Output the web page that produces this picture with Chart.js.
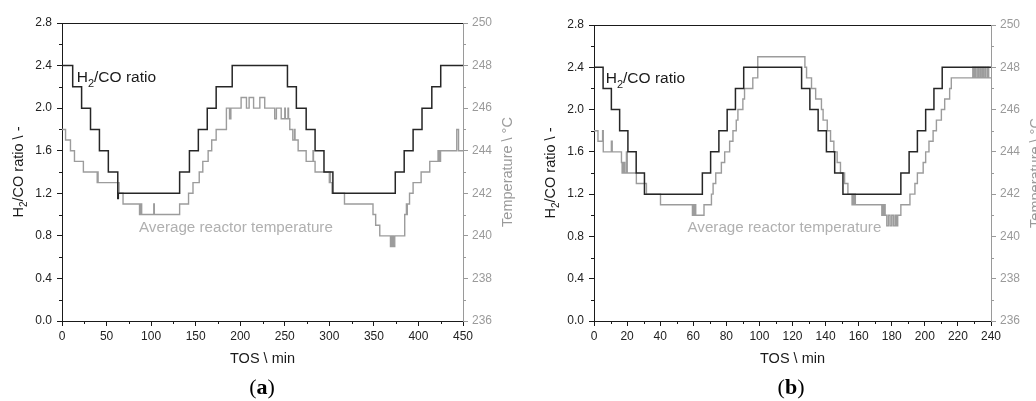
<!DOCTYPE html>
<html>
<head>
<meta charset="utf-8">
<script src="https://cdn.jsdelivr.net/npm/chart.js@4.4.1/dist/chart.umd.min.js"></script>
<style>
    html, body { margin: 0; padding: 0; background: #fff; overflow: hidden; }
    body { width: 1036px; height: 401px; position: relative; }
    canvas { position: absolute; top: 0; }
    #chartA { left: 0; }
    #chartB { left: 530px; }
    .cap { position: absolute; top: 374px; width: 60px; text-align: center;
           font: 22px 'Liberation Serif', 'DejaVu Serif', serif; color: #000; }
</style>
</head>
<body>
<canvas id="chartA" width="520" height="401"></canvas>
<canvas id="chartB" width="520" height="401"></canvas>
<div class="cap" style="left:232px">(<b>a</b>)</div>
<div class="cap" style="left:761px">(<b>b</b>)</div>
<script>
// axis ranges: [min, max, major step]
var tosRangeA = [0, 450, 50];
var tosRangeB = [0, 240, 20];
var ratioRange = [0, 2.8, 0.4];
var tempRange = [236, 250, 2];

// (a) H2/CO ratio set points, each value holds from its TOS until the next one
var tosRatioA = [0, 12, 22, 32, 42, 52, 62.6, 63.2, 132, 143, 153, 163, 173, 191,
                 253, 263, 274, 284, 294, 304, 374, 384, 394, 404, 415, 425, 450];
var ratioA = [2.4, 2.2, 2.0, 1.8, 1.6, 1.4, 1.15, 1.2, 1.4, 1.6, 1.8, 2.0, 2.2, 2.4,
              2.2, 2.0, 1.8, 1.6, 1.4, 1.2, 1.4, 1.6, 1.8, 2.0, 2.2, 2.4, 2.4];

// (a) average reactor temperature
var tosTempA = [0, 4, 9.5, 14, 24, 39.5, 40, 40.5, 64, 68.5, 87, 87.6, 88.2, 88.8, 89.4,
                103, 103.6, 132, 142, 147, 154, 158, 164, 168, 173, 184.5, 188, 188.5,
                189, 189.5, 201, 207, 210, 215, 222, 227.5, 238.7, 240.6, 246, 250,
                250.6, 253.6, 254.2, 255.6, 259, 261, 261.5, 265, 274, 281.7, 282.2,
                284, 300, 300.6, 301.2, 303, 317, 349, 352, 356.6, 368.6, 369.4, 370.2,
                371, 371.8, 373.4, 384.6, 386.5, 387, 387.5, 390, 394, 403, 412.7, 422,
                423, 423.6, 424.2, 424.8, 443, 445, 450];
var tempA = [245, 244.5, 244, 243.5, 243, 242.5, 243, 242.5, 242, 241.5, 241, 241.5, 241,
             241.5, 241, 241.5, 241, 241.5, 242, 242.5, 243, 243.5, 244, 244.5, 245, 246,
             245.5, 246, 245.5, 246, 246.5, 246, 246.5, 246, 246.5, 246, 245.5, 246,
             245.5, 246, 245.5, 246, 245.5, 245, 244.5, 245, 244.5, 244, 243.5, 244,
             243.5, 243, 242.5, 243, 242.5, 242, 241.5, 241, 240.5, 240, 239.5, 240,
             239.5, 240, 239.5, 240, 241, 241.5, 241, 241.5, 242, 242.5, 243, 243.5, 244,
             243.5, 244, 243.5, 244, 245, 244, 244];

// (b) H2/CO ratio set points
var tosRatioB = [0, 5.5, 10.5, 15.5, 20.5, 25.5, 30.5, 65.5, 70.5, 75.5, 80.5, 85.5, 90.5,
                 125.5, 130.5, 135.5, 140.5, 145.5, 150.5, 185.5, 190.5, 195.5, 200.5,
                 205.5, 210.5, 240];
var ratioB = [2.4, 2.2, 2.0, 1.8, 1.6, 1.4, 1.2, 1.4, 1.6, 1.8, 2.0, 2.2, 2.4,
              2.2, 2.0, 1.8, 1.6, 1.4, 1.2, 1.4, 1.6, 1.8, 2.0, 2.2, 2.4, 2.4];

// (b) average reactor temperature
var tosTempB = [0, 2.4, 5.2, 5.6, 10.5, 11, 16.6, 17, 17.4, 17.8, 18.2, 18.6, 19.6, 20.1,
                25.6, 31.7, 40.2, 59.5, 60, 60.5, 61, 61.5, 66.5, 71, 72, 73.6, 77, 79,
                82, 84, 86, 87, 90, 91, 96, 99, 127.5, 128.5, 131.5, 134, 137.5, 138.5,
                141, 143, 145, 147, 149, 151.5, 153.5, 156, 156.5, 157, 157.5, 158, 174,
                174.5, 175, 175.5, 176, 177, 178, 179, 180, 181, 182, 182.8, 183.6, 185.5,
                191, 194, 195.5, 199, 200.5, 202.5, 205, 207, 210, 212, 215, 216, 229,
                229.7, 230.4, 231, 232, 232.6, 233.5, 234.1, 235, 235.6, 236.5, 237, 238,
                238.6, 240];
var tempB = [245, 244.5, 245, 244, 244.5, 244, 243.5, 243, 243.5, 243, 243.5, 243, 244, 243,
             242.5, 242, 241.5, 241, 241.5, 241, 241.5, 241, 241.5, 242, 242.5, 243, 243.5,
             244, 244.5, 245, 245.5, 246, 246.5, 247, 247.5, 248.5, 248, 247.5, 247, 246.5,
             246, 245.5, 245, 244.5, 244, 243.5, 243, 242.5, 242, 241.5, 242, 241.5, 242,
             241.5, 241, 241.5, 241, 241.5, 241, 240.5, 241, 240.5, 241, 240.5, 241, 240.5,
             241, 241.5, 242, 242.5, 243, 243.5, 244, 244.5, 245, 245.5, 246, 246.5, 247,
             247.5, 248, 247.5, 248, 247.5, 248, 247.5, 248, 247.5, 248, 247.5, 248, 247.5,
             248, 247.5, 247.5];

(function () {
    'use strict';

    var FONT = "'Liberation Sans', Arial, sans-serif";
    var DARK = '#1a1a1a';
    var GREY = '#9a9a9a';
    var RATIO_LINE = '#262626';
    var TEMP_LINE = '#9c9c9c';
    var NOTE_GREY = '#b0b0b0';

    function toPoints(xs, ys) {
        return xs.map(function (x, i) { return { x: x, y: ys[i] }; });
    }

    // text with an optional subscript piece, drawn left to right from x (or centred)
    function drawRich(ctx, parts, x, y, align, size, color) {
        var big = size + 'px ' + FONT;
        var small = Math.round(size * 0.68) + 'px ' + FONT;
        var w = 0;
        parts.forEach(function (p) { ctx.font = p.sub ? small : big; w += ctx.measureText(p.t).width; });
        var cx = align === 'center' ? x - w / 2 : x;
        ctx.fillStyle = color;
        ctx.textAlign = 'left';
        ctx.textBaseline = 'alphabetic';
        parts.forEach(function (p) {
            ctx.font = p.sub ? small : big;
            ctx.fillText(p.t, cx, y + (p.sub ? size * 0.3 : 0));
            cx += ctx.measureText(p.t).width;
        });
    }

    var axisExtras = {
        id: 'axisExtras',
        afterDraw: function (chart, args, o) {
            var ctx = chart.ctx, a = chart.chartArea;
            var sx = chart.scales.x, sy = chart.scales.y, sy2 = chart.scales.y2;
            var i, p, n;
            ctx.save();
            ctx.lineWidth = 1;

            // top edge of the frame
            ctx.strokeStyle = DARK;
            ctx.beginPath();
            p = Math.round(a.top) + 0.5;
            ctx.moveTo(a.left, p);
            ctx.lineTo(a.right, p);
            ctx.stroke();

            // minor ticks between the major ones
            ctx.beginPath();
            n = Math.round(o.xMax / (o.xStep / 2));
            for (i = 1; i < n; i += 2) {
                p = Math.round(sx.getPixelForValue(i * o.xStep / 2)) + 0.5;
                ctx.moveTo(p, a.bottom);
                ctx.lineTo(p, a.bottom + 3);
            }
            for (i = 1; i < 14; i += 2) {
                p = Math.round(sy.getPixelForValue(i * 0.2)) + 0.5;
                ctx.moveTo(a.left - 3, p);
                ctx.lineTo(a.left, p);
            }
            ctx.stroke();
            ctx.strokeStyle = GREY;
            ctx.beginPath();
            for (i = 237; i < 250; i += 2) {
                p = Math.round(sy2.getPixelForValue(i)) + 0.5;
                ctx.moveTo(a.right, p);
                ctx.lineTo(a.right + 3, p);
            }
            ctx.stroke();

            // axis titles, both read bottom to top
            var midY = (a.top + a.bottom) / 2;
            ctx.save();
            ctx.translate(a.left - o.titleGap, midY);
            ctx.rotate(-Math.PI / 2);
            drawRich(ctx, [{ t: 'H' }, { t: '2', sub: true }, { t: '/CO ratio \\ -' }], 0, 5, 'center', 14.5, DARK);
            ctx.restore();
            ctx.save();
            ctx.translate(a.right + o.titleGap, midY);
            ctx.rotate(-Math.PI / 2);
            drawRich(ctx, [{ t: 'Temperature \\ \u00B0C' }], 0, 5, 'center', 14.5, GREY);
            ctx.restore();

            // curve labels inside the plot
            drawRich(ctx, [{ t: 'H' }, { t: '2', sub: true }, { t: '/CO ratio' }],
                sx.getPixelForValue(o.ratioNote[0]), sy.getPixelForValue(o.ratioNote[1]) + 5,
                'left', 15.5, DARK);
            drawRich(ctx, [{ t: 'Average reactor temperature' }],
                sx.getPixelForValue(o.tempNote[0]), sy.getPixelForValue(o.tempNote[1]) + 5,
                'left', 15.2, NOTE_GREY);
            ctx.restore();
        }
    };

    function renderPanel(id, cfg) {
        var el = document.getElementById(id);
        if (!el) return;
        new Chart(el, {
            type: 'line',
            data: {
                datasets: [{
                    label: 'H2/CO ratio',
                    data: toPoints(cfg.ratioTos, cfg.ratio),
                    yAxisID: 'y',
                    borderColor: RATIO_LINE,
                    borderWidth: 1.5,
                    stepped: 'before',
                    pointRadius: 0,
                    fill: false
                }, {
                    label: 'Average reactor temperature',
                    data: toPoints(cfg.tempTos, cfg.temp),
                    yAxisID: 'y2',
                    borderColor: TEMP_LINE,
                    borderWidth: 1.4,
                    stepped: 'before',
                    pointRadius: 0,
                    fill: false
                }]
            },
            options: {
                responsive: false,
                animation: false,
                events: [],
                layout: { padding: { top: cfg.top, left: 0, right: 0, bottom: 0 } },
                plugins: {
                    legend: { display: false },
                    tooltip: { enabled: false },
                    axisExtras: {
                        xMax: cfg.x[1], xStep: cfg.x[2], titleGap: 44,
                        ratioNote: cfg.ratioNote, tempNote: cfg.tempNote
                    }
                },
                scales: {
                    x: {
                        type: 'linear',
                        min: cfg.x[0], max: cfg.x[1],
                        afterFit: function (s) { s.height = 80; },
                        border: { color: DARK, width: 1 },
                        grid: { drawOnChartArea: false, tickLength: 5, tickColor: DARK },
                        ticks: {
                            stepSize: cfg.x[2], autoSkip: false, maxRotation: 0, padding: 3,
                            color: '#222', font: { family: FONT, size: 12 }
                        },
                        title: {
                            display: true, text: 'TOS \\ min', color: DARK,
                            font: { family: FONT, size: 14.5 }, padding: { top: 0, bottom: 33 }
                        }
                    },
                    y: {
                        position: 'left',
                        min: ratioRange[0], max: ratioRange[1],
                        afterFit: function (s) { s.width = cfg.leftW; },
                        border: { color: DARK, width: 1 },
                        grid: { drawOnChartArea: false, tickLength: 5, tickColor: DARK },
                        ticks: {
                            stepSize: ratioRange[2], padding: 5, color: '#222',
                            font: { family: FONT, size: 12 },
                            callback: function (v) { return Number(v).toFixed(1); }
                        }
                    },
                    y2: {
                        position: 'right',
                        min: tempRange[0], max: tempRange[1],
                        afterFit: function (s) { s.width = cfg.rightW; },
                        border: { color: GREY, width: 1 },
                        grid: { drawOnChartArea: false, tickLength: 5, tickColor: GREY },
                        ticks: {
                            stepSize: tempRange[2], padding: 4, color: GREY,
                            font: { family: FONT, size: 12 }
                        }
                    }
                }
            },
            plugins: [axisExtras]
        });
    }

    renderPanel('chartA', {
        x: tosRangeA, top: 23, leftW: 62, rightW: 57,
        ratioTos: tosRatioA, ratio: ratioA, tempTos: tosTempA, temp: tempA,
        ratioNote: [16.5, 2.29], tempNote: [86.4, 0.88]
    });
    renderPanel('chartB', {
        x: tosRangeB, top: 25, leftW: 64, rightW: 59,
        ratioTos: tosRatioB, ratio: ratioB, tempTos: tosTempB, temp: tempB,
        ratioNote: [7.1, 2.30], tempNote: [56.5, 0.89]
    });
})();
</script>
</body>
</html>
